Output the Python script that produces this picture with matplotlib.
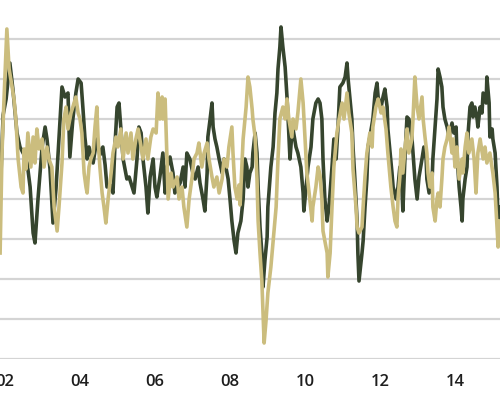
import matplotlib
matplotlib.use("Agg")
import matplotlib.pyplot as plt

# dark green series (decimal year, value)
dark_year = [
    2001.87, 2001.95, 2002.03, 2002.13, 2002.21, 2002.32, 2002.40, 2002.51, 2002.59, 2002.67,
    2002.75, 2002.80, 2002.88, 2002.99, 2003.07, 2003.12, 2003.20, 2003.28, 2003.36, 2003.47,
    2003.52, 2003.60, 2003.68, 2003.73, 2003.81, 2003.89, 2003.95, 2004.03, 2004.08, 2004.13,
    2004.19, 2004.24, 2004.35, 2004.45, 2004.53, 2004.61, 2004.67, 2004.72, 2004.80, 2004.88,
    2004.93, 2004.99, 2005.04, 2005.09, 2005.15, 2005.25, 2005.31, 2005.39, 2005.44, 2005.52,
    2005.57, 2005.63, 2005.68, 2005.76, 2005.81, 2005.87, 2005.95, 2006.00, 2006.05, 2006.13,
    2006.21, 2006.27, 2006.32, 2006.40, 2006.48, 2006.53, 2006.61, 2006.67, 2006.75, 2006.80,
    2006.85, 2006.93, 2007.01, 2007.07, 2007.15, 2007.20, 2007.28, 2007.33, 2007.39, 2007.41,
    2007.47, 2007.52, 2007.55, 2007.60, 2007.65, 2007.71, 2007.79, 2007.84, 2007.89, 2007.95,
    2008.00, 2008.05, 2008.11, 2008.16, 2008.21, 2008.29, 2008.35, 2008.40, 2008.45, 2008.48,
    2008.53, 2008.59, 2008.61, 2008.67, 2008.72, 2008.75, 2008.80, 2008.85, 2008.88, 2008.93,
    2008.99, 2009.01, 2009.09, 2009.15, 2009.20, 2009.25, 2009.28, 2009.33, 2009.36, 2009.41,
    2009.47, 2009.52, 2009.55, 2009.60, 2009.65, 2009.68, 2009.76, 2009.81, 2009.89, 2009.95,
    2009.97, 2010.03, 2010.08, 2010.16, 2010.21, 2010.29, 2010.35, 2010.40, 2010.45, 2010.48,
    2010.53, 2010.59, 2010.64, 2010.72, 2010.77, 2010.83, 2010.88, 2010.93, 2011.01, 2011.07,
    2011.12, 2011.15, 2011.20, 2011.25, 2011.28, 2011.33, 2011.39, 2011.41, 2011.44, 2011.52,
    2011.55, 2011.60, 2011.65, 2011.68, 2011.73, 2011.81, 2011.87, 2011.92, 2011.95, 2012.03,
    2012.08, 2012.13, 2012.19, 2012.21, 2012.27, 2012.32, 2012.35, 2012.43, 2012.48, 2012.53,
    2012.59, 2012.61, 2012.67, 2012.72, 2012.77, 2012.85, 2012.88, 2012.93, 2012.99, 2013.04,
    2013.12, 2013.17, 2013.23, 2013.25, 2013.31, 2013.39, 2013.41, 2013.47, 2013.52, 2013.55,
    2013.60, 2013.65, 2013.68, 2013.73, 2013.79, 2013.84, 2013.92, 2013.97, 2014.03, 2014.05,
    2014.11, 2014.16, 2014.19, 2014.21, 2014.27, 2014.32, 2014.35, 2014.40, 2014.45, 2014.48,
    2014.53, 2014.59, 2014.61, 2014.67, 2014.72, 2014.75, 2014.83, 2014.85, 2014.91, 2014.93,
    2014.99, 2015.01, 2015.07, 2015.12, 2015.15, 2015.20,
]
dark_val = [
    0, 42, 50, 68, 55, 33, 26, 22, 18, 6,
    -17, -22, 0, 26, 36, 30, 15, -12, 5, 40,
    56, 51, 53, 21, 40, 53, 60, 58, 45, 31,
    20, 26, 18, 30, 22, 26, 17, 6, 7, 3,
    26, 46, 48, 35, 20, 10, 11, 6, 3, 20,
    36, 33, 20, 6, -7, 11, 20, 6, 1, 11,
    23, 3, 16, 21, 13, 3, 6, 8, 16, 6,
    23, 20, 13, 10, 16, 8, 0, -6, 13, 31,
    40, 48, 36, 30, 26, 20, 13, 20, 16, 10,
    0, -11, -21, -27, -17, -11, 0, 20, 16, 6,
    13, 16, 23, 33, 23, 6, -14, -27, -44, -31,
    -19, -4, 16, 26, 43, 53, 65, 76, 86, 76,
    66, 51, 40, 20, 33, 35, 26, 23, 16, 3,
    -6, 6, 16, 26, 40, 48, 50, 48, 40, 20,
    0, -11, -4, 16, 30, 20, 36, 56, 58, 61,
    68, 60, 50, 40, 26, 10, -11, -27, -41, -27,
    -21, -4, 10, 26, 31, 40, 53, 58, 51, 46,
    51, 55, 46, 35, 23, 13, 6, 0, 6, 16,
    3, -6, 23, 41, 40, 31, 23, 10, 0, 11,
    20, 26, 20, 10, 3, 10, 20, 36, 50, 65,
    61, 56, 46, 40, 36, 31, 38, 33, 36, 23,
    6, -4, -11, 0, 10, 16, 33, 46, 48, 41,
    46, 40, 36, 46, 43, 53, 48, 61, 48, 31,
    35, 30, 23, 6, -11, -4,
]

# khaki series (decimal year, value)
khaki_year = [
    2001.87, 2001.92, 2001.97, 2002.05, 2002.11, 2002.19, 2002.24, 2002.29, 2002.35, 2002.43,
    2002.48, 2002.51, 2002.56, 2002.61, 2002.69, 2002.75, 2002.80, 2002.85, 2002.91, 2002.99,
    2003.04, 2003.12, 2003.17, 2003.25, 2003.31, 2003.39, 2003.44, 2003.52, 2003.57, 2003.63,
    2003.68, 2003.76, 2003.81, 2003.89, 2003.95, 2004.00, 2004.05, 2004.11, 2004.16, 2004.19,
    2004.24, 2004.29, 2004.35, 2004.40, 2004.45, 2004.48, 2004.53, 2004.59, 2004.64, 2004.69,
    2004.75, 2004.83, 2004.88, 2004.96, 2005.01, 2005.09, 2005.15, 2005.23, 2005.28, 2005.36,
    2005.41, 2005.49, 2005.55, 2005.63, 2005.68, 2005.76, 2005.81, 2005.89, 2005.95, 2006.03,
    2006.08, 2006.13, 2006.19, 2006.21, 2006.27, 2006.32, 2006.35, 2006.43, 2006.48, 2006.59,
    2006.64, 2006.72, 2006.77, 2006.85, 2006.91, 2006.99, 2007.04, 2007.12, 2007.17, 2007.25,
    2007.31, 2007.39, 2007.44, 2007.52, 2007.57, 2007.65, 2007.71, 2007.79, 2007.84, 2007.92,
    2007.97, 2008.05, 2008.08, 2008.13, 2008.19, 2008.24, 2008.27, 2008.35, 2008.43, 2008.48,
    2008.53, 2008.59, 2008.61, 2008.67, 2008.72, 2008.75, 2008.80, 2008.85, 2008.88, 2008.91,
    2008.96, 2009.01, 2009.09, 2009.15, 2009.23, 2009.28, 2009.33, 2009.41, 2009.47, 2009.52,
    2009.57, 2009.65, 2009.68, 2009.76, 2009.81, 2009.89, 2009.95, 2010.00, 2010.05, 2010.11,
    2010.19, 2010.21, 2010.29, 2010.35, 2010.40, 2010.45, 2010.48, 2010.53, 2010.59, 2010.61,
    2010.67, 2010.72, 2010.77, 2010.85, 2010.91, 2010.99, 2011.04, 2011.12, 2011.17, 2011.25,
    2011.28, 2011.36, 2011.39, 2011.44, 2011.52, 2011.55, 2011.60, 2011.65, 2011.73, 2011.79,
    2011.81, 2011.89, 2011.95, 2012.03, 2012.08, 2012.16, 2012.21, 2012.29, 2012.35, 2012.40,
    2012.45, 2012.48, 2012.53, 2012.56, 2012.61, 2012.67, 2012.72, 2012.77, 2012.85, 2012.88,
    2012.93, 2012.99, 2013.04, 2013.12, 2013.15, 2013.20, 2013.25, 2013.28, 2013.33, 2013.39,
    2013.41, 2013.47, 2013.52, 2013.55, 2013.60, 2013.65, 2013.68, 2013.73, 2013.79, 2013.84,
    2013.92, 2013.95, 2014.00, 2014.05, 2014.11, 2014.19, 2014.21, 2014.27, 2014.32, 2014.37,
    2014.45, 2014.51, 2014.56, 2014.61, 2014.67, 2014.75, 2014.80, 2014.85, 2014.93, 2015.01,
    2015.07, 2015.12, 2015.15, 2015.20,
]
khaki_val = [
    -27, 23, 48, 85, 65, 56, 50, 40, 20, 6,
    3, 25, 15, 33, 16, 31, 18, 35, 25, 30,
    16, 26, 20, 16, -4, -16, -4, 18, 40, 46,
    35, 43, 46, 51, 43, 40, 33, 13, 6, 3,
    16, 20, 23, 36, 46, 31, 16, 3, -4, -12,
    0, 13, 23, 31, 26, 35, 20, 33, 23, 33,
    20, 30, 35, 26, 20, 30, 20, 31, 35, 33,
    53, 40, 51, 40, 50, 20, 0, 13, 6, 11,
    0, 6, -4, -14, 0, 11, 20, 23, 28, 16,
    23, 28, 20, 11, 6, 11, 3, 10, 20, 16,
    26, 36, 23, 6, 0, 7, -3, 30, 46, 61,
    56, 45, 40, 31, 10, -11, -27, -41, -57, -72,
    -61, -47, -34, -21, -4, 20, 40, 46, 40, 50,
    40, 31, 40, 35, 43, 60, 48, 31, 13, 3,
    -11, -4, 6, 16, 12, 0, -16, -21, -27, -39,
    -27, -4, 16, 33, 40, 48, 40, 53, 43, 33,
    15, -4, -14, -17, -14, -4, 11, 23, 33, 26,
    36, 46, 50, 43, 46, 35, 23, 6, -4, -11,
    -14, 0, 11, 25, 13, 26, 35, 23, 30, 40,
    61, 46, 40, 51, 40, 31, 23, 13, 6, 13,
    -4, -11, 0, 3, -4, 10, 20, 26, 30, 36,
    23, 30, 16, 26, 10, 20, 13, 26, 33, 23,
    30, 20, 3, 23, 30, 20, 26, 18, 23, 13,
    3, -14, -24, -11,
]

tick_years = [2002, 2004, 2006, 2008, 2010, 2012, 2014]
tick_labels = ["02", "04", "06", "08", "10", "12", "14"]
grid_levels = [-80, -60, -40, -20, 0, 20, 40, 60, 80]

fig = plt.figure(figsize=(5, 4), dpi=100)
ax = fig.add_axes([0, 0.1025, 1, 0.8975])

for g in grid_levels:
    ax.axhline(g, color="#d4d4d4", lw=1.6, zorder=0)

ax.plot(dark_year, dark_val, color="#36452e", lw=2.6, zorder=2)
ax.plot(khaki_year, khaki_val, color="#cbbd7e", lw=2.6, zorder=3)

ax.set_xlim(2001.867, 2015.2)
ax.set_ylim(-80, 99.5)
ax.set_xticks(tick_years)
ax.set_xticklabels(tick_labels, fontsize=12, color="#1e1e1e",
                   family="Open Sans", fontweight="semibold")
ax.set_yticks([])
ax.tick_params(axis="x", length=0, pad=11)
for s in ax.spines.values():
    s.set_visible(False)

fig.savefig("out.png", dpi=100)
